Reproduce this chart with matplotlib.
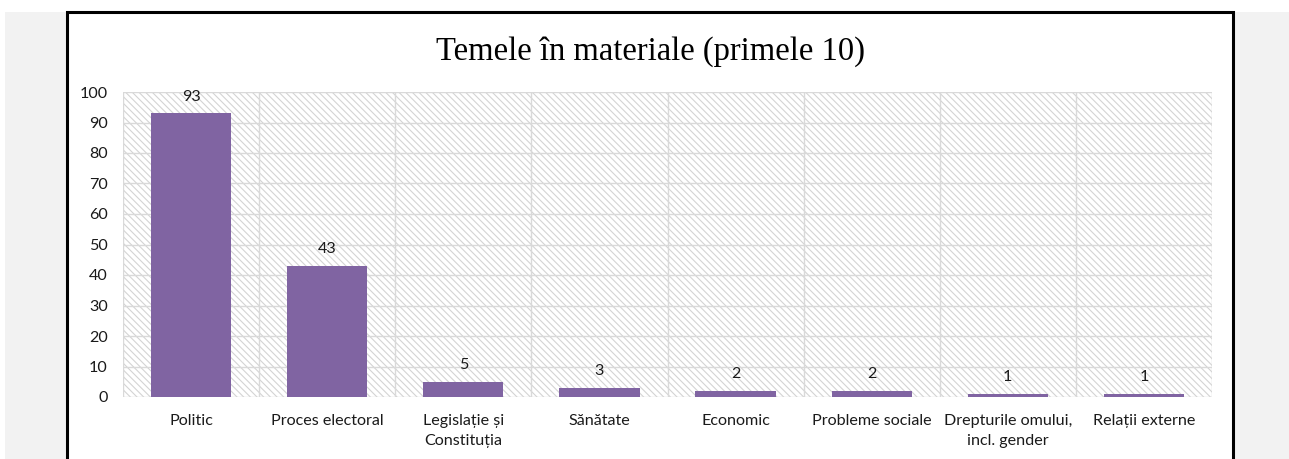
import matplotlib.pyplot as plt
from matplotlib.patches import Rectangle

# data
teme = ['Politic', 'Proces electoral', 'Legislație și\nConstituția', 'Sănătate',
        'Economic', 'Probleme sociale', 'Drepturile omului,\nincl. gender', 'Relații externe']
valori = [93, 43, 5, 3, 2, 2, 1, 1]
y_ticks = list(range(0, 101, 10))

W, H = 1289, 459
plt.rcParams['font.family'] = ['Lato', 'DejaVu Sans']
plt.rcParams['hatch.linewidth'] = 0.8
plt.rcParams['hatch.color'] = '#d4d4d4'

fig = plt.figure(figsize=(W / 100, H / 100), dpi=100)
fig.patch.set_facecolor('white')

# gray page background + white chart box with black border (pixel coords -> figure fraction)
def px(x, y):
    return x / W, 1 - y / H

fig.patches.append(Rectangle(px(5, H + 5), (W - 5) / W, (H - 7) / H, transform=fig.transFigure,
                             facecolor='#f2f2f2', edgecolor='none', zorder=0))
fig.patches.append(Rectangle(px(67, H + 5), (1233 - 67) / W, (H - 7) / H, transform=fig.transFigure,
                             facecolor='white', edgecolor='black', lw=2.2, zorder=1))

l, b = px(123, 397)
r, t = px(1212, 92)
ax = fig.add_axes([l, b, r - l, t - b])
ax.set_zorder(5)
ax.set_facecolor('white')

# hatched plot area
ax.add_patch(Rectangle((0, 0), 1, 1, transform=ax.transAxes, facecolor='white',
                       edgecolor='#d4d4d4', hatch='\\\\\\\\\\', lw=0, zorder=0))

x = range(len(teme))
bars = ax.bar(x, valori, width=0.59, color='#8064a2', zorder=3)

ax.set_xlim(-0.5, len(teme) - 0.5)
ax.set_ylim(0, 100)
ax.set_yticks(y_ticks)
ax.set_xticks(list(x))
ax.set_xticklabels(teme, fontsize=11.6, color='#1a1a1a', linespacing=1.5)
ax.tick_params(axis='y', length=0, pad=11, labelsize=11.6, labelcolor='#1a1a1a')
ax.tick_params(axis='x', length=0, pad=12.5)

for yv in y_ticks:
    ax.axhline(yv, color='#d9d9d9', lw=1, zorder=1)
for i in range(len(teme) + 1):
    ax.axvline(i - 0.5, color='#d9d9d9', lw=1, zorder=1)

for spine in ax.spines.values():
    spine.set_visible(False)

for rect, v in zip(bars, valori):
    ax.annotate(str(v), (rect.get_x() + rect.get_width() / 2, v), xytext=(0, 7),
                textcoords='offset points', ha='center', va='bottom',
                fontsize=11.6, color='#1a1a1a', zorder=4)

fig.text(650 / W, 1 - 52 / H, 'Temele în materiale (primele 10)', ha='center', va='center',
         fontsize=23.5, family=['Liberation Serif', 'DejaVu Serif'], color='black', zorder=6)

fig.savefig('out.png', dpi=100)
